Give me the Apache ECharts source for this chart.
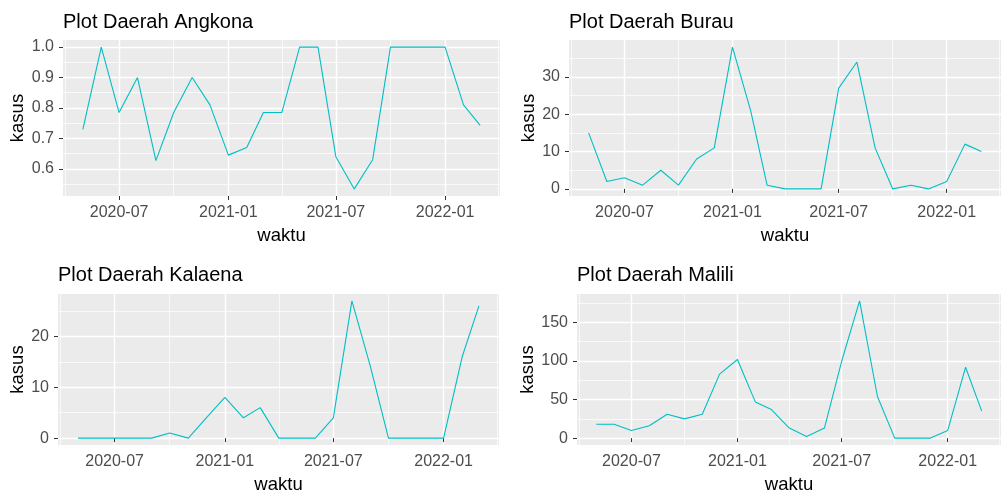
<!DOCTYPE html>
<html>
<head>
<meta charset="utf-8">
<script src="https://cdn.jsdelivr.net/npm/echarts@6/dist/echarts.min.js"></script>
<style>
  html, body { margin: 0; padding: 0; background: #fff; }
  #chart { width: 1001px; height: 495px; }
</style>
</head>
<body>
<div id="chart"></div>
<script>
// bulan (monthly data, first of month)
const months = ['2020-05-01','2020-06-01','2020-07-01','2020-08-01','2020-09-01','2020-10-01','2020-11-01','2020-12-01',
  '2021-01-01','2021-02-01','2021-03-01','2021-04-01','2021-05-01','2021-06-01','2021-07-01','2021-08-01',
  '2021-09-01','2021-10-01','2021-11-01','2021-12-01','2022-01-01','2022-02-01','2022-03-01'];

const angkona = [0.73,1.0,0.785,0.9,0.627,0.785,0.9,0.81,0.645,0.67,0.785,0.785,1.0,1.0,0.64,0.534,0.63,1.0,1.0,1.0,1.0,0.81,0.743];
const burau   = [15,2,3,1,5,1,8,11,38,21,1,0,0,0,27,34,11,0,1,0,2,12,10];
const kalaena = [0,0,0,0,0,1,0,4,8,4,6,0,0,0,4,27,14,0,0,0,0,16,26];
const malili  = [18,18,10,16,31,25,31,83,102,47,37,13,2,13,100,178,54,0,0,0,10,92,35];

// tick positions
const xMajor = ['2020-07-01','2021-01-01','2021-07-01','2022-01-01'];
const xMinor = ['2020-04-01','2020-10-01','2021-04-01','2021-10-01','2022-04-01'];
const yMajorAngkona = [0.6,0.7,0.8,0.9,1.0];
const yMinorAngkona = [0.55,0.65,0.75,0.85,0.95];
const yMajorBurau = [0,10,20,30];
const yMinorBurau = [5,15,25,35];
const yMajorKalaena = [0,10,20];
const yMinorKalaena = [5,15,25];
const yMajorMalili = [0,50,100,150];
const yMinorMalili = [25,75,125,175];

const panels = [
  { title: 'Plot Daerah Angkona', data: angkona, major: yMajorAngkona, minor: yMinorAngkona, dec: 1,
    left: 63, top: 40, width: 437, height: 156, nameGap: 35, titleTop: 12 },
  { title: 'Plot Daerah Burau', data: burau, major: yMajorBurau, minor: yMinorBurau, dec: 0,
    left: 569, top: 40, width: 442, height: 156, nameGap: 27, titleTop: 12 },
  { title: 'Plot Daerah Kalaena', data: kalaena, major: yMajorKalaena, minor: yMinorKalaena, dec: 0,
    left: 58, top: 294, width: 441, height: 156, nameGap: 31, titleTop: 265 },
  { title: 'Plot Daerah Malili', data: malili, major: yMajorMalili, minor: yMinorMalili, dec: 0,
    left: 577, top: 294, width: 435, height: 156, nameGap: 38, titleTop: 265 }
];

const ts = s => echarts.number.parseDate(s).getTime();
const xs = months.map(ts);
const xSpan = xs[xs.length - 1] - xs[0];
const xMin = xs[0] - xSpan * 0.05;
const xMax = xs[xs.length - 1] + xSpan * 0.05;

const fmtMonth = v => {
  const d = new Date(v);
  const m = d.getMonth() + 1;
  return d.getFullYear() + '-' + (m < 10 ? '0' + m : m);
};

const FONT = '"Liberation Sans", Arial, sans-serif';
const tickStyle = { show: true, length: 4, lineStyle: { color: '#333333', width: 1 } };

let grid = [], xAxis = [], yAxis = [], series = [], title = [];

panels.forEach((p, i) => {
  const lo = Math.min(...p.data), hi = Math.max(...p.data);
  const pad = (hi - lo) * 0.05;

  grid.push({ left: p.left, top: p.top, width: p.width, height: p.height,
    show: true, backgroundColor: '#EBEBEB', borderWidth: 0 });

  title.push({ text: p.title, left: p.left, top: p.titleTop, padding: 0,
    textStyle: { fontFamily: FONT, fontSize: 20, fontWeight: 'normal', color: '#000' } });

  // x major (dates as timestamps on a value scale)
  xAxis.push({
    type: 'value', gridIndex: i, min: xMin, max: xMax,
    name: 'waktu', nameLocation: 'middle', nameGap: 30,
    nameTextStyle: { fontFamily: FONT, fontSize: 18.5, color: '#000' },
    axisLine: { show: false },
    axisTick: Object.assign({ customValues: xMajor.map(ts) }, tickStyle),
    axisLabel: { customValues: xMajor.map(ts), formatter: fmtMonth, margin: 9,
      fontFamily: FONT, fontSize: 16, color: '#4D4D4D' },
    splitLine: { show: true, lineStyle: { color: '#FFFFFF', width: 1.4 } }
  });
  // x minor
  xAxis.push({
    type: 'value', gridIndex: i, min: xMin, max: xMax,
    axisLine: { show: false },
    axisTick: { show: false, customValues: xMinor.map(ts) },
    axisLabel: { show: false, customValues: xMinor.map(ts) },
    splitLine: { show: true, lineStyle: { color: '#FFFFFF', width: 0.7 } }
  });
  // y major
  yAxis.push({
    type: 'value', gridIndex: i, min: lo - pad, max: hi + pad,
    name: 'kasus', nameLocation: 'middle', nameGap: p.nameGap, nameRotate: 90,
    nameTextStyle: { fontFamily: FONT, fontSize: 18.5, color: '#000' },
    axisLine: { show: false },
    axisTick: Object.assign({ customValues: p.major }, tickStyle),
    axisLabel: { customValues: p.major, formatter: v => v.toFixed(p.dec), margin: 9,
      fontFamily: FONT, fontSize: 16, color: '#4D4D4D' },
    splitLine: { show: true, lineStyle: { color: '#FFFFFF', width: 1.4 } }
  });
  // y minor
  yAxis.push({
    type: 'value', gridIndex: i, min: lo - pad, max: hi + pad,
    axisLine: { show: false },
    axisTick: { show: false, customValues: p.minor },
    axisLabel: { show: false, customValues: p.minor },
    splitLine: { show: true, lineStyle: { color: '#FFFFFF', width: 0.7 } }
  });

  series.push({
    type: 'line', xAxisIndex: 2 * i, yAxisIndex: 2 * i,
    data: months.map((m, k) => [ts(m), p.data[k]]),
    showSymbol: false, symbol: 'none', animation: false,
    lineStyle: { color: '#00BFC4', width: 1.1 }
  });
});

const chart = echarts.init(document.getElementById('chart'), null, { renderer: 'canvas' });
chart.setOption({ animation: false, title, grid, xAxis, yAxis, series });
</script>
</body>
</html>
